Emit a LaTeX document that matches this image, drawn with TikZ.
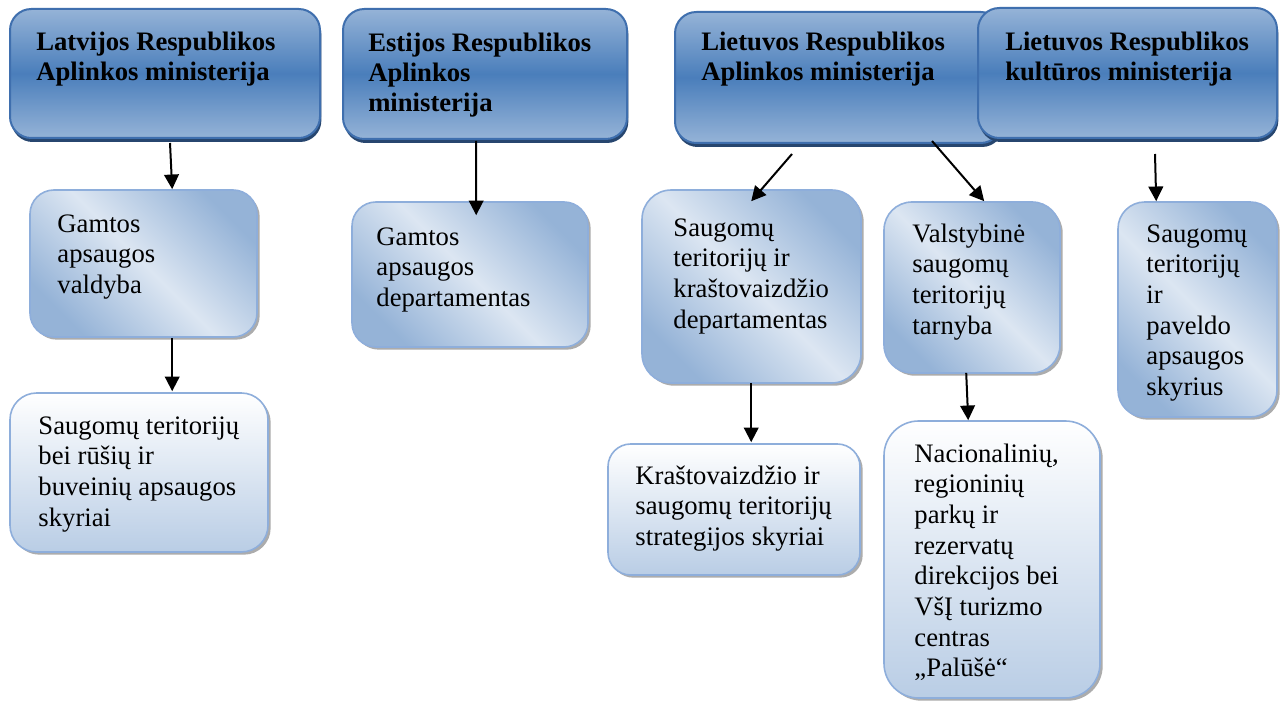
\documentclass[tikz,border=0pt]{standalone}
\usepackage{fontspec}
\setmainfont{Liberation Serif}
\usetikzlibrary{fit,calc,shadows,arrows.meta}
\definecolor{hdrL}{HTML}{95B3D7}
\definecolor{hdrD}{HTML}{4A7EBB}
\definecolor{hdrB}{HTML}{3F6FAE}
\definecolor{hdrS}{HTML}{27466F}
\definecolor{lbA}{HTML}{95B3D7}
\definecolor{lbB}{HTML}{DCE6F2}
\definecolor{lbC}{HTML}{B9CDE5}
\definecolor{lbE}{HTML}{8EAEDB}
\begin{document}
\begin{tikzpicture}[x=0.75pt,y=-0.75pt,
  hdr/.style={draw=hdrB, line width=1.5pt, top color=hdrL, bottom color=hdrL, middle color=hdrD, inner sep=0pt,
    drop shadow={shadow xshift=1pt, shadow yshift=-3pt, fill=hdrS, opacity=1}},
  dg/.style={draw=lbE, line width=1.2pt, top color=lbA, bottom color=lbA, middle color=lbB, shading angle=-45, inner sep=0pt,
    drop shadow={shadow xshift=2pt, shadow yshift=-2pt, fill=gray!65, opacity=1}},
  vt/.style={draw=lbE, line width=1.2pt, top color=white, bottom color=lbC, inner sep=0pt,
    drop shadow={shadow xshift=2pt, shadow yshift=-2pt, fill=gray!65, opacity=1}},
  ht/.style={anchor=base west, inner sep=0pt, font=\bfseries\fontsize{20}{22.5}\selectfont},
  bt/.style={anchor=base west, inner sep=0pt, font=\fontsize{20}{23}\selectfont},
  arr/.style={-{Triangle[length=11pt,width=11pt]}, line width=1.5pt}]
\fill[white] (0,0) rectangle (1284,702);
\useasboundingbox (0,0) rectangle (1284,702);

% headers
\node[hdr, rounded corners=16pt, fit={(10,9) (320,138)}] (lv) {};
\node[hdr, rounded corners=16pt, fit={(343,9) (627,139)}] (ee) {};
\node[hdr, rounded corners=16pt, fit={(675,12) (1002,143)}] (lta) {};
\node[hdr, rounded corners=16pt, fit={(978,8) (1277,138)}] (ltk) {};

\node[ht] (lvT) at ($(lv.north west)+(27,43)$) {\begin{tabular}[t]{@{}l@{}}Latvijos Respublikos\\Aplinkos ministerija\end{tabular}};
\node[ht] (eeT) at ($(ee.north west)+(26,44)$) {\begin{tabular}[t]{@{}l@{}}Estijos Respublikos\\Aplinkos\\ministerija\end{tabular}};
\node[ht] (ltaT) at ($(lta.north west)+(27,40)$) {\begin{tabular}[t]{@{}l@{}}Lietuvos Respublikos\\Aplinkos ministerija\end{tabular}};
\node[ht] (ltkT) at ($(ltk.north west)+(28,44)$) {\begin{tabular}[t]{@{}l@{}}Lietuvos Respublikos\\kultūros ministerija\end{tabular}};

% second level
\node[dg, rounded corners=18pt, fit={(30,190) (257,337)}] (gav) {};
\node[dg, rounded corners=18pt, fit={(352,202) (588,347)}] (gad) {};
\node[dg, rounded corners=22pt, fit={(642,190) (861,383)}] (std) {};
\node[dg, rounded corners=21pt, fit={(884,202) (1060,373)}] (vst) {};
\node[dg, rounded corners=20pt, fit={(1118,202) (1277,417)}] (spa) {};

% third level
\node[vt, rounded corners=20pt, fit={(10,393) (268,552)}] (stb) {};
\node[vt, rounded corners=17pt, fit={(608,444) (860,575)}] (kss) {};
\node[vt, rounded corners=26pt, fit={(884,421) (1100,698)}] (nac) {};

\node[bt] (gavT) at ($(gav.north west)+(28,43)$) {\begin{tabular}[t]{@{}l@{}}Gamtos\\apsaugos\\valdyba\end{tabular}};
\node[bt] (gadT) at ($(gad.north west)+(25,44)$) {\begin{tabular}[t]{@{}l@{}}Gamtos\\apsaugos\\departamentas\end{tabular}};
\node[bt] (stdT) at ($(std.north west)+(32,47)$) {\begin{tabular}[t]{@{}l@{}}Saugomų\\teritorijų ir\\kraštovaizdžio\\departamentas\end{tabular}};
\node[bt] (vstT) at ($(vst.north west)+(29,41)$) {\begin{tabular}[t]{@{}l@{}}Valstybinė\\saugomų\\teritorijų\\tarnyba\end{tabular}};
\node[bt] (spaT) at ($(spa.north west)+(29,41)$) {\begin{tabular}[t]{@{}l@{}}Saugomų\\teritorijų\\ir\\paveldo\\apsaugos\\skyrius\end{tabular}};
\node[bt] (stbT) at ($(stb.north west)+(29,42)$) {\begin{tabular}[t]{@{}l@{}}Saugomų teritorijų\\bei rūšių ir\\buveinių apsaugos\\skyriai\end{tabular}};
\node[bt] (kssT) at ($(kss.north west)+(28,41)$) {\begin{tabular}[t]{@{}l@{}}Kraštovaizdžio ir\\saugomų teritorijų\\strategijos skyriai\end{tabular}};
\node[bt] (nacT) at ($(nac.north west)+(31,42)$) {\begin{tabular}[t]{@{}l@{}}Nacionalinių,\\regioninių\\parkų ir\\rezervatų\\direkcijos bei\\VšĮ turizmo\\centras\\„Palūšė“\end{tabular}};

% connectors
\draw[arr] ($(lv.south west)+(161,4)$) -- ($(gav.north west)+(143,0)$);
\draw[arr] ($(gav.south west)+(143,0)$) -- ($(stb.north west)+(163,-1)$);
\draw[arr] ($(ee.south west)+(134,1)$) -- ($(gad.north west)+(125,14)$);
\draw[arr] ($(lta.south west)+(118,10)$) -- ($(std.north west)+(110,12)$);
\draw[arr] ($(lta.south west)+(258,-3)$) -- ($(vst.north west)+(101,0)$);
\draw[arr] ($(ltk.south west)+(178,15)$) -- ($(spa.north west)+(39,0)$);
\draw[arr] ($(std.south west)+(110,-1)$) -- ($(kss.north west)+(144,-1)$);
\draw[arr] ($(vst.south west)+(83,-1)$) -- ($(nac.north west)+(85,0)$);
\end{tikzpicture}
\end{document}
